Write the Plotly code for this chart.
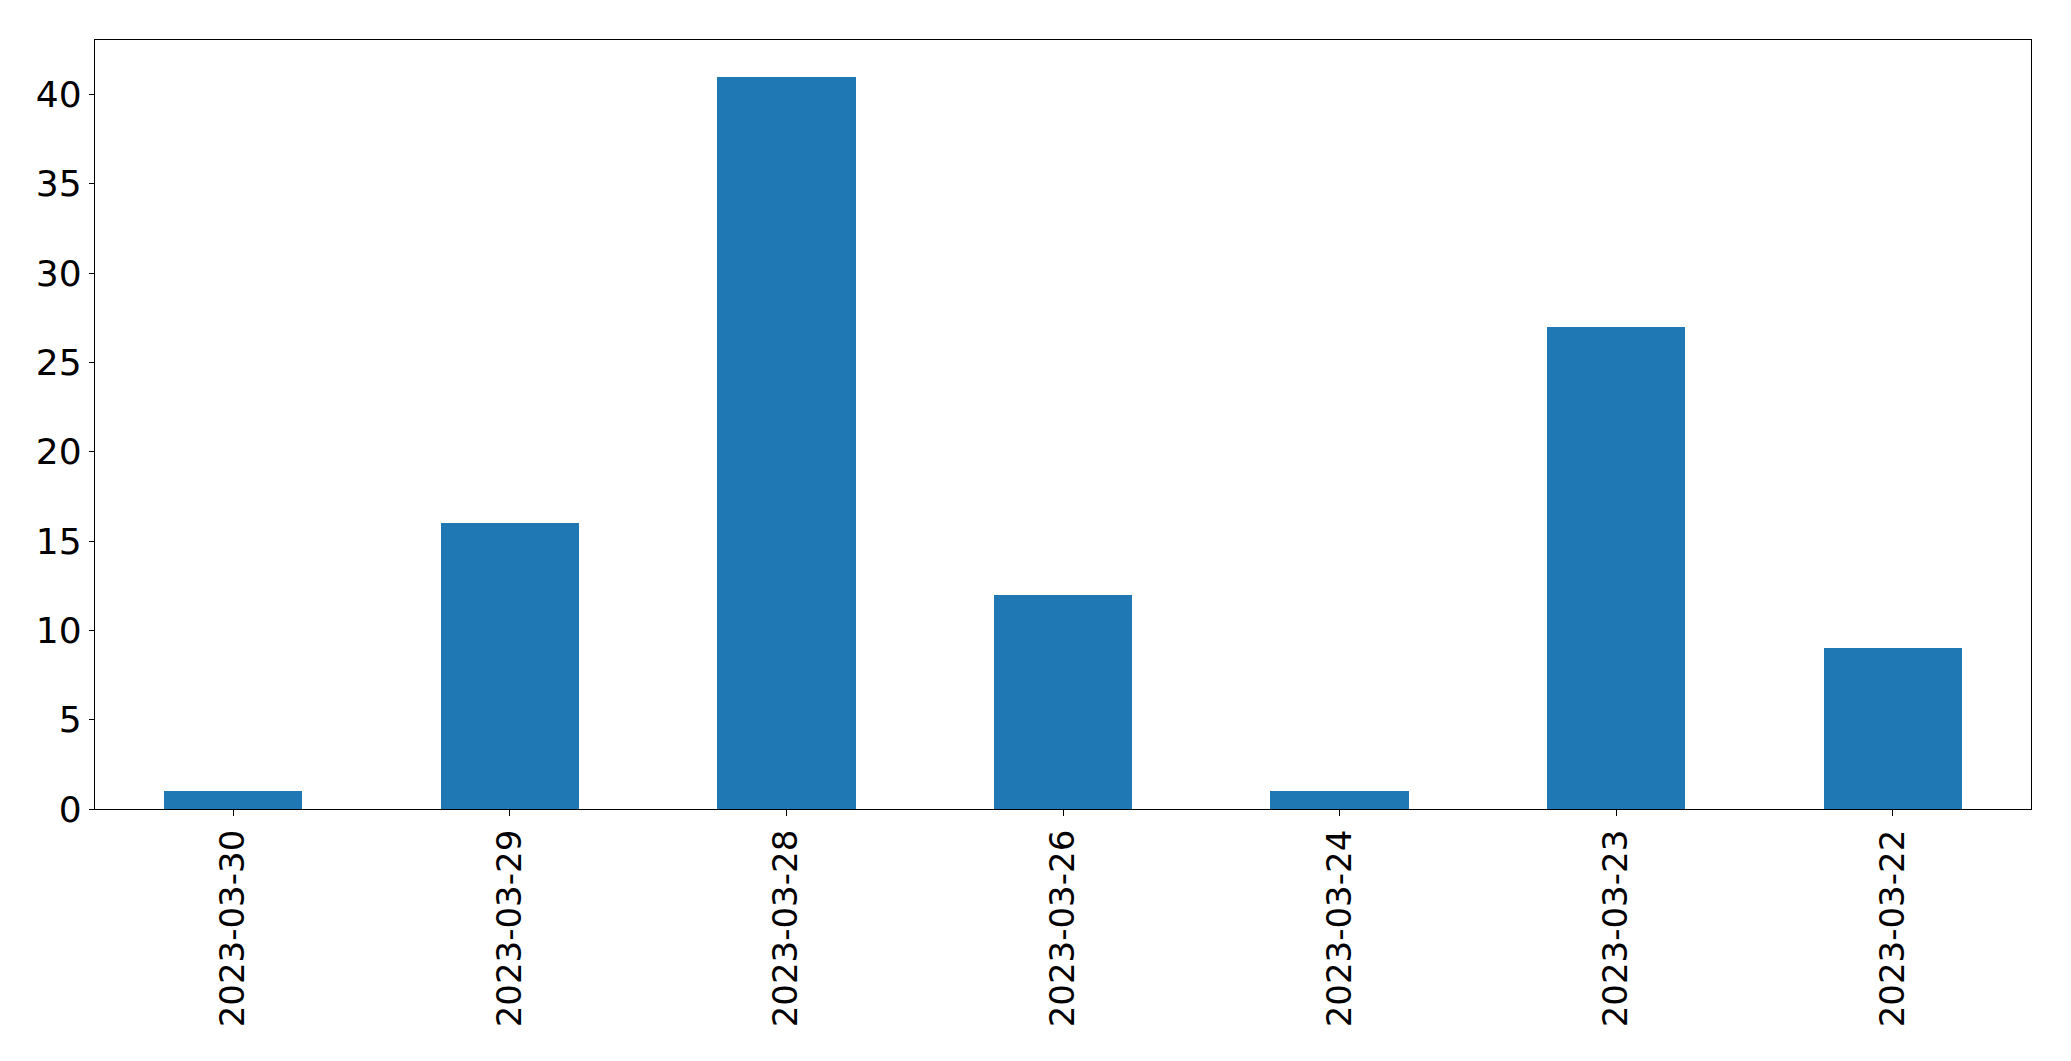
import plotly.graph_objects as go

dates = ["2023-03-30", "2023-03-29", "2023-03-28", "2023-03-26", "2023-03-24", "2023-03-23", "2023-03-22"]
counts = [1, 16, 41, 12, 1, 27, 9]
y_ticks = [0, 5, 10, 15, 20, 25, 30, 35, 40]

fig = go.Figure(go.Bar(x=dates, y=counts, marker_color="#1f77b4", marker_line_width=0, width=0.5))

# page body has an 8px margin, so the figure sits 8px right/down in the window
fig.update_layout(
    width=2071, height=1061,
    margin=dict(l=86.5, r=47.5, t=31.5, b=260),
    plot_bgcolor="white", paper_bgcolor="white",
    font=dict(family="DejaVu Sans", size=34, color="black"),
    showlegend=False,
    bargap=0,
)
fig.update_xaxes(
    type="category", range=[-0.5, 6.5], tickangle=-90,
    tickfont=dict(size=34),
    showline=True, linecolor="black", linewidth=1.3, mirror=True,
    ticks="outside", ticklen=6, tickcolor="black", tickwidth=1.3,
    showgrid=False, zeroline=False,
)
fig.update_yaxes(
    range=[0, 43.05], tickvals=y_ticks,
    tickfont=dict(size=36),
    showline=True, linecolor="black", linewidth=1.3, mirror=True,
    ticks="outside", ticklen=5, tickcolor="black", tickwidth=1.3,
    showgrid=False, zeroline=False,
)
fig.write_html("out.html")
